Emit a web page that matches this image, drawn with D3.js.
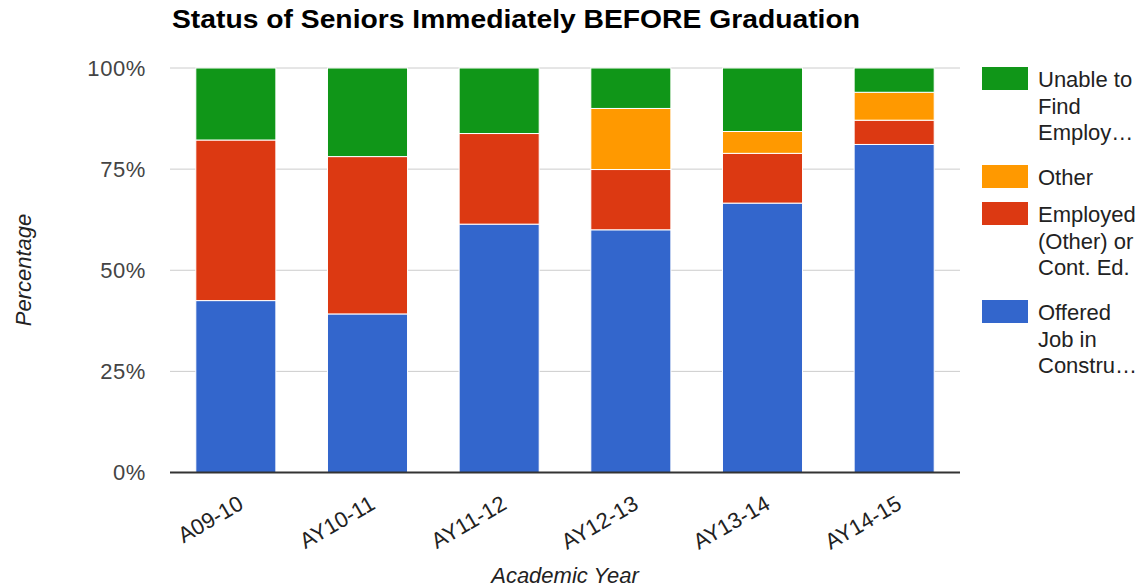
<!DOCTYPE html>
<html>
<head>
<meta charset="utf-8">
<script src="https://cdn.jsdelivr.net/npm/d3@7"></script>
<style>
  html, body { margin: 0; padding: 0; background: #fff; }
  svg { display: block; font-family: "Liberation Sans", Arial, sans-serif; }
</style>
</head>
<body>
<svg id="chart" width="1142" height="587"></svg>
<script>
// Academic years on the x axis
const years = ["A09-10", "AY10-11", "AY11-12", "AY12-13", "AY13-14", "AY14-15"];

// Percent of seniors in each status, per year (stack order: bottom to top)
const offeredConstruction = [42.5, 39.2, 61.4, 60.0, 66.6, 81.1];
const employedOtherContEd = [39.7, 38.9, 22.4, 14.9, 12.3, 6.0];
const otherStatus = [0, 0, 0, 15.1, 5.4, 6.9];
const unableToFind = [17.8, 21.9, 16.2, 10.0, 15.7, 6.0];

const seriesNames = ["Offered Job in Construction", "Employed (Other) or Cont. Ed.", "Other", "Unable to Find Employment"];
const seriesColors = ["#3366cc", "#dc3912", "#ff9900", "#109618"];

// Legend text as wrapped (top to bottom in legend order)
const legendLines = [
  ["Unable to", "Find", "Employ…"],
  ["Other"],
  ["Employed", "(Other) or", "Cont. Ed."],
  ["Offered", "Job in", "Constru…"]
];

const yTicks = [0, 25, 50, 75, 100];

const svg = d3.select("#chart");
const plot = { left: 170, right: 960, top: 68, bottom: 472.5 };
const fs = 22;

const rows = years.map((y, i) => ({
  year: y,
  s0: offeredConstruction[i],
  s1: employedOtherContEd[i],
  s2: otherStatus[i],
  s3: unableToFind[i]
}));

const stack = d3.stack().keys(["s0", "s1", "s2", "s3"]);
const stacked = stack(rows);

const x = d3.scaleBand().domain(years).range([plot.left, plot.right]).paddingInner(0.392).paddingOuter(0.196);
const y = d3.scaleLinear().domain([0, 100]).range([plot.bottom, plot.top]);

// Title
svg.append("text")
  .attr("x", 172).attr("y", 28)
  .attr("font-size", 25).attr("font-weight", "bold").attr("fill", "#000")
  .attr("textLength", 688).attr("lengthAdjust", "spacingAndGlyphs")
  .text("Status of Seniors Immediately BEFORE Graduation");

// Gridlines
svg.append("g").selectAll("line").data(yTicks.filter(d => d > 0)).join("line")
  .attr("x1", plot.left).attr("x2", plot.right)
  .attr("y1", d => y(d)).attr("y2", d => y(d))
  .attr("stroke", "#cccccc").attr("stroke-width", 1);

// Y axis labels
const yAxis = d3.axisLeft(y).tickValues(yTicks).tickFormat(d => d + "%").tickSize(0).tickPadding(24);
const yg = svg.append("g").attr("transform", `translate(${plot.left},0)`).call(yAxis);
yg.select(".domain").remove();
yg.selectAll("text").attr("font-size", fs).attr("fill", "#444")
  .attr("letter-spacing", 0.6)
  .attr("font-family", "'Liberation Sans', Arial, sans-serif");

// Bars
svg.append("g").selectAll("g").data(stacked).join("g")
  .attr("fill", (d, i) => seriesColors[i])
  .selectAll("rect").data(d => d.filter(s => s[1] - s[0] > 0)).join("rect")
  .attr("x", d => x(d.data.year))
  .attr("width", x.bandwidth())
  .attr("y", d => y(d[1]))
  .attr("height", d => y(d[0]) - y(d[1]))
  .attr("stroke", "#fff").attr("stroke-width", 1);

// Baseline
svg.append("line")
  .attr("x1", plot.left).attr("x2", plot.right)
  .attr("y1", y(0)).attr("y2", y(0))
  .attr("stroke", "#333").attr("stroke-width", 2);

// X axis labels (rotated)
svg.append("g").selectAll("text").data(years).join("text")
  .attr("transform", d => `translate(${x(d) + x.bandwidth() / 2 + 9},508) rotate(-30)`)
  .attr("text-anchor", "end")
  .attr("font-size", fs).attr("fill", "#222")
  .text(d => d);

// Axis titles
svg.append("text")
  .attr("x", 565).attr("y", 583)
  .attr("text-anchor", "middle").attr("font-size", fs).attr("font-style", "italic").attr("fill", "#222")
  .text("Academic Year");

svg.append("text")
  .attr("transform", "translate(31,270) rotate(-90)")
  .attr("text-anchor", "middle").attr("font-size", fs).attr("font-style", "italic").attr("fill", "#222")
  .text("Percentage");

// Legend
const legendTops = [67, 165, 202, 300];
const legendOrder = [3, 2, 1, 0];
const lg = svg.append("g");
legendOrder.forEach((si, k) => {
  const top = legendTops[k];
  lg.append("rect")
    .attr("x", 982).attr("y", top).attr("width", 46).attr("height", 23)
    .attr("fill", seriesColors[si]);
  legendLines[k].forEach((line, j) => {
    lg.append("text")
      .attr("x", 1038).attr("y", top + 20 + j * 26.5)
      .attr("font-size", fs).attr("fill", "#222")
      .text(line);
  });
});
</script>
</body>
</html>
